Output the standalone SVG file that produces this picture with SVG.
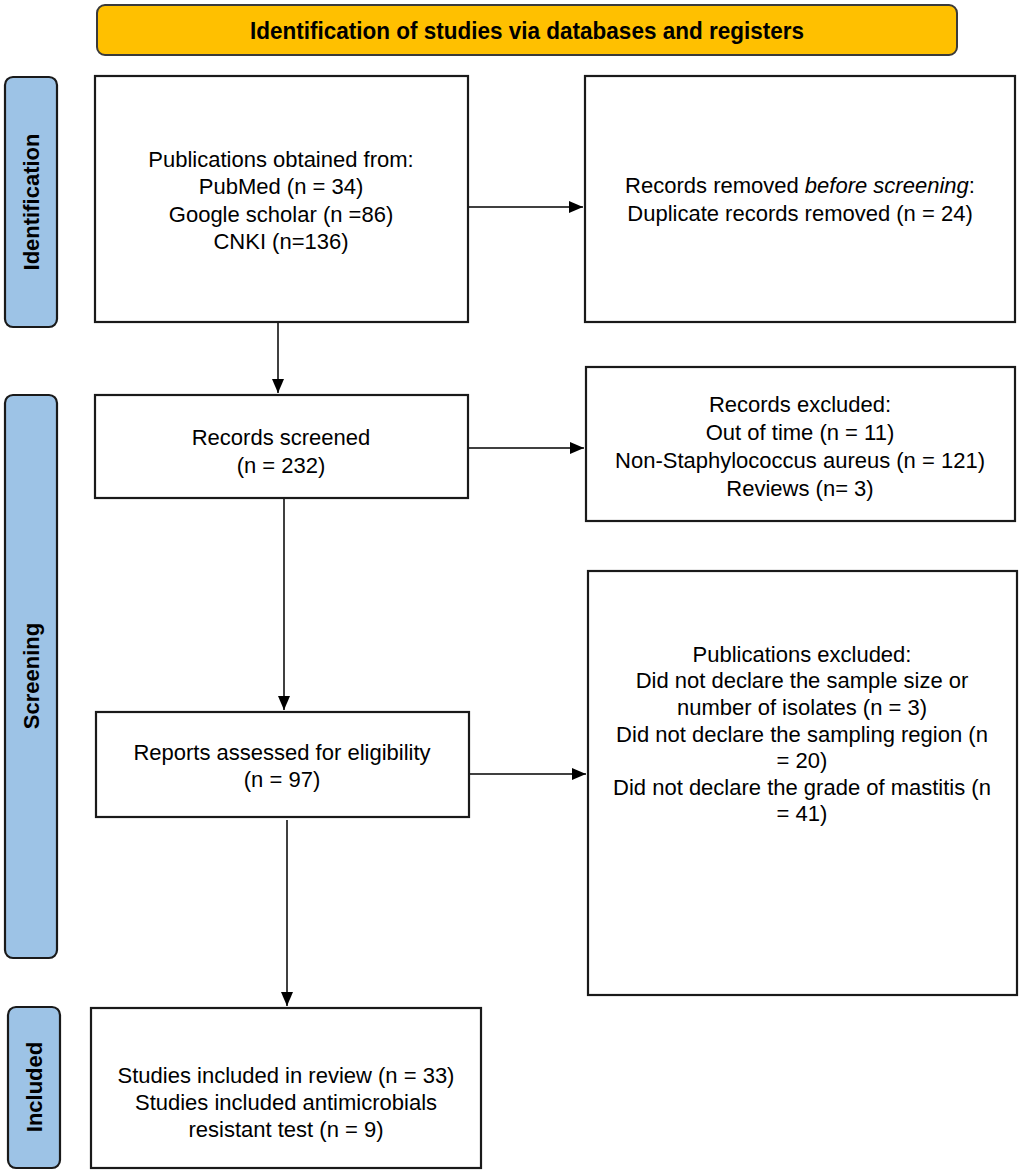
<svg xmlns="http://www.w3.org/2000/svg" width="1021" height="1173" viewBox="0 0 1021 1173">
<style>
  .box { fill: #ffffff; stroke: #1a1a1a; stroke-width: 2.2; }
  .phase { fill: #9dc3e6; stroke: #1a1a1a; stroke-width: 2.2; }
  .banner { fill: #ffc000; stroke: #3a3a3a; stroke-width: 2; }
  .t { font-family: "Liberation Sans", Arial, sans-serif; font-size: 22px; fill: #000; text-anchor: middle; }
  .pt { font-family: "Liberation Sans", Arial, sans-serif; font-size: 22px; font-weight: bold; fill: #000; text-anchor: middle; }
  .conn { stroke: #000; stroke-width: 1.5; fill: none; marker-end: url(#arrow); }
</style>
<defs>
  <marker id="arrow" viewBox="0 0 14 12" refX="14" refY="6" markerWidth="14" markerHeight="12" markerUnits="userSpaceOnUse" orient="auto">
    <path d="M0,0 L14,6 L0,12 Z" fill="#000"/>
  </marker>
</defs>
<rect width="1021" height="1173" fill="#ffffff"/>

<g id="banner">
  <rect class="banner" x="97" y="5" width="860" height="50" rx="8"/>
  <text class="pt" x="527" y="39" style="font-size:24px" textLength="554" lengthAdjust="spacingAndGlyphs">Identification of studies via databases and registers</text>
</g>

<g id="phase-identification">
  <rect class="phase" x="5" y="77" width="52" height="250" rx="8"/>
  <text class="pt" transform="translate(39,202) rotate(-90)">Identification</text>
</g>
<g id="phase-screening">
  <rect class="phase" x="5" y="395" width="52" height="563" rx="8"/>
  <text class="pt" transform="translate(39,676) rotate(-90)">Screening</text>
</g>
<g id="phase-included">
  <rect class="phase" x="8" y="1007" width="52" height="161" rx="8"/>
  <text class="pt" transform="translate(42,1087) rotate(-90)">Included</text>
</g>

<g id="box-publications">
  <rect class="box" x="95" y="76" width="373" height="246"/>
  <text class="t" x="281" y="167">Publications obtained from:</text>
  <text class="t" x="281" y="194">PubMed (n = 34)</text>
  <text class="t" x="281" y="222">Google scholar (n =86)</text>
  <text class="t" x="281" y="249">CNKI (n=136)</text>
</g>

<g id="box-removed">
  <rect class="box" x="585" y="76" width="430" height="246"/>
  <text class="t" x="800" y="193">Records removed <tspan font-style="italic">before screening</tspan>:</text>
  <text class="t" x="800" y="221">Duplicate records removed (n = 24)</text>
</g>

<g id="box-screened">
  <rect class="box" x="95" y="395" width="373" height="103"/>
  <text class="t" x="281" y="445">Records screened</text>
  <text class="t" x="281" y="473">(n = 232)</text>
</g>

<g id="box-records-excluded">
  <rect class="box" x="586" y="367" width="429" height="154"/>
  <text class="t" x="800" y="412">Records excluded:</text>
  <text class="t" x="800" y="440">Out of time (n = 11)</text>
  <text class="t" x="800" y="468">Non-Staphylococcus aureus (n = 121)</text>
  <text class="t" x="800" y="496">Reviews (n= 3)</text>
</g>

<g id="box-eligibility">
  <rect class="box" x="96" y="712" width="373" height="105"/>
  <text class="t" x="282" y="760">Reports assessed for eligibility</text>
  <text class="t" x="282" y="787">(n = 97)</text>
</g>

<g id="box-publications-excluded">
  <rect class="box" x="588" y="571" width="429" height="424"/>
  <text class="t" x="802" y="662">Publications excluded:</text>
  <text class="t" x="802" y="688">Did not declare the sample size or</text>
  <text class="t" x="802" y="715">number of isolates (n = 3)</text>
  <text class="t" x="802" y="742">Did not declare the sampling region (n</text>
  <text class="t" x="802" y="768">= 20)</text>
  <text class="t" x="802" y="795">Did not declare the grade of mastitis (n</text>
  <text class="t" x="802" y="821">= 41)</text>
</g>

<g id="box-included">
  <rect class="box" x="91" y="1008" width="390" height="160"/>
  <text class="t" x="286" y="1083">Studies included in review (n = 33)</text>
  <text class="t" x="286" y="1110">Studies included antimicrobials</text>
  <text class="t" x="286" y="1137">resistant test (n = 9)</text>
</g>

<g id="connectors">
  <line class="conn" x1="469" y1="207" x2="583" y2="207"/>
  <line class="conn" x1="278" y1="323" x2="278" y2="393"/>
  <line class="conn" x1="469" y1="448" x2="584" y2="448"/>
  <line class="conn" x1="284" y1="499" x2="284" y2="710"/>
  <line class="conn" x1="470" y1="774" x2="586" y2="774"/>
  <line class="conn" x1="287" y1="820" x2="287" y2="1006"/>
</g>
</svg>
